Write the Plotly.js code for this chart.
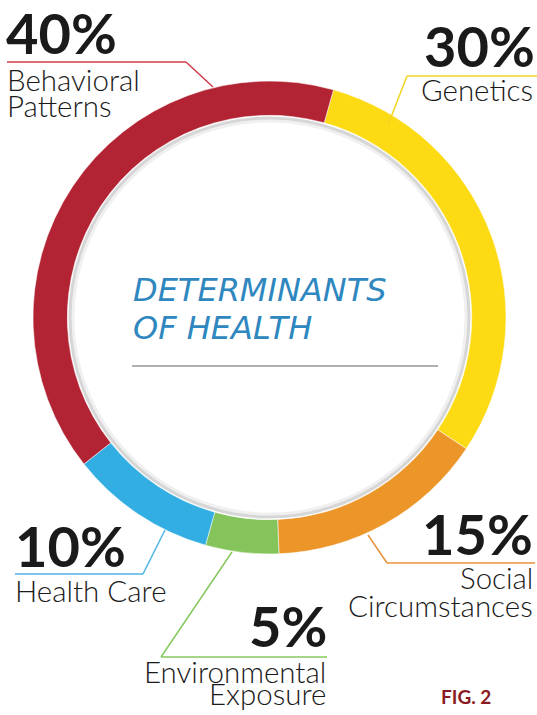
<!DOCTYPE html>
<html>
<head>
<meta charset="utf-8">
<script src="https://cdn.plot.ly/plotly-3.0.1.min.js"></script>
<style>html,body{margin:0;padding:0;background:#fff;}#chart{width:537px;height:715px;}</style>
</head>
<body>
<div id="chart"></div>
<script>
// ---- data ----
const categories = ['Genetics', 'Social Circumstances', 'Environmental Exposure', 'Health Care', 'Behavioral Patterns'];
const values = [30, 15, 5, 10, 40];
const colors = ['#FCDA14', '#EC962A', '#84C45A', '#33AEE3', '#B22434'];
const lineColors = ['#F2D41E', '#E8923A', '#86C85E', '#4DB5E6', '#CF3C48'];
const labelLines = [['Genetics'], ['Social', 'Circumstances'], ['Environmental', 'Exposure'], ['Health Care'], ['Behavioral', 'Patterns']];
const centerTitle = ['DETERMINANTS', 'OF HEALTH'];
const figLabel = 'FIG. 2';

// ---- layout helpers (pixel -> paper) ----
const W = 537, H = 715;
const px = x => x / W;
const py = y => 1 - y / H;
const cx = 269.5, cy = 317.5, R = 236.5;

const pctFont = {family: 'Lato, sans-serif', size: 56, color: '#1a1a1a', weight: 'bold'};
const lblFont = {family: 'Lato, sans-serif', size: 29.5, color: '#1a1a1a', weight: 300};

// label placements: [x, baselineY, anchor] for percent + lines
const place = [
  {pct: [537, 67, 'right'], lines: [[535, 101]], anchor: 'right'},
  {pct: [535, 555, 'right'], lines: [[535, 589], [535, 617]], anchor: 'right'},
  {pct: [329, 647, 'right'], lines: [[328, 683], [328, 705]], anchor: 'right'},
  {pct: [13, 567, 'left'], lines: [[13, 602]], anchor: 'left'},
  {pct: [4, 54, 'left'], lines: [[5, 91], [5, 117]], anchor: 'left'}
];
const leaders = [
  [[388, 125], [407, 76], [537, 76]],
  [[368, 535], [387, 563], [535, 563]],
  [[232, 552], [161, 657], [327, 657]],
  [[165, 530], [143, 574], [15, 574]],
  [[213, 87], [186, 62], [7, 62]]
];

const annotations = [];
const shapes = [];
place.forEach((p, i) => {
  annotations.push({
    text: values[i] + '%', showarrow: false, xref: 'paper', yref: 'paper',
    x: px(p.pct[0]), y: py(p.pct[1] - 0.38 * pctFont.size),
    xanchor: p.pct[2], yanchor: 'middle', font: pctFont
  });
  p.lines.forEach((l, j) => {
    annotations.push({
      text: labelLines[i][j], showarrow: false, xref: 'paper', yref: 'paper',
      x: px(l[0]), y: py(l[1] - 0.38 * lblFont.size),
      xanchor: p.anchor, yanchor: 'middle', font: lblFont
    });
  });
  const pts = leaders[i];
  for (let k = 0; k < pts.length - 1; k++) {
    shapes.push({
      type: 'line', xref: 'paper', yref: 'paper',
      x0: px(pts[k][0]), y0: py(pts[k][1]), x1: px(pts[k + 1][0]), y1: py(pts[k + 1][1]),
      line: {color: lineColors[i], width: 1.5}
    });
  }
});

// center title
const ctFont = {family: '"DejaVu Sans", sans-serif', size: 32, color: '#2F87C0', style: 'italic'};
[[131, 302], [131, 340]].forEach((pos, i) => {
  annotations.push({
    text: centerTitle[i], showarrow: false, xref: 'paper', yref: 'paper',
    x: px(pos[0]), y: py(pos[1] - 0.36 * ctFont.size), xanchor: 'left', yanchor: 'middle', font: ctFont
  });
});
shapes.push({type: 'line', xref: 'paper', yref: 'paper', x0: px(132), x1: px(438), y0: py(366), y1: py(366),
  line: {color: '#AFAFAF', width: 2}});

// fig label
annotations.push({text: figLabel, showarrow: false, xref: 'paper', yref: 'paper',
  x: px(439), y: py(704 - 0.38 * 19), xanchor: 'left', yanchor: 'middle',
  font: {family: 'Lato, sans-serif', size: 19, color: '#8A1B22', weight: 'bold'}});

// inner shadow of ring
[[199.5, 3, 'rgba(0,0,0,0.16)'], [196.5, 3, 'rgba(0,0,0,0.06)']].forEach(s => {
  shapes.push({type: 'circle', xref: 'paper', yref: 'paper',
    x0: px(cx - s[0]), x1: px(cx + s[0]), y0: py(cy + s[0]), y1: py(cy - s[0]),
    line: {color: s[2], width: s[1]}});
});

const trace = {
  type: 'pie',
  labels: categories,
  values: values,
  sort: false,
  direction: 'clockwise',
  rotation: 15.7,
  hole: 0.855,
  textinfo: 'none',
  hoverinfo: 'label+percent',
  marker: {colors: colors, line: {color: 'rgba(255,255,255,0.5)', width: 1}},
  domain: {x: [px(cx - R), px(cx + R)], y: [py(cy + R), py(cy - R)]},
  showlegend: false
};

const layout = {
  width: W, height: H,
  margin: {l: 0, r: 0, t: 0, b: 0},
  paper_bgcolor: '#ffffff',
  showlegend: false,
  annotations: annotations,
  shapes: shapes
};

Plotly.newPlot('chart', [trace], layout, {displayModeBar: false, staticPlot: true});
</script>
</body>
</html>
